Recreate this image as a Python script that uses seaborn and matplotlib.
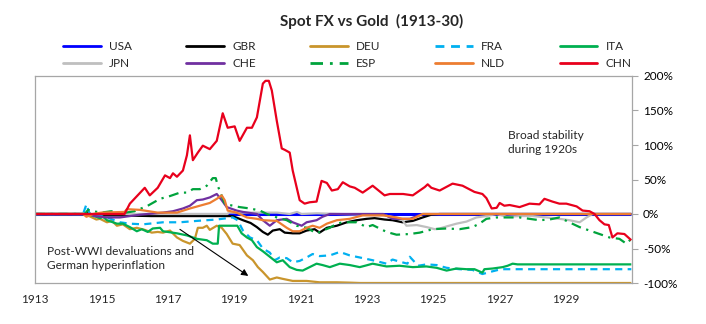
import numpy as np
import pandas as pd
import matplotlib
matplotlib.use("Agg")
import matplotlib.pyplot as plt
from matplotlib.lines import Line2D
import seaborn as sns

# ---------------- data (year, % change of spot FX vs gold) ----------------
countries = ["USA", "GBR", "DEU", "FRA", "ITA", "JPN", "CHE", "ESP", "NLD", "CHN"]

usa_x = [1913.0, 1930.98]
usa_y = [0, 0]

gbr_x = [1913.0, 1914.5, 1914.6, 1914.75, 1915.5, 1916.5, 1917.5, 1918.5, 1918.96, 1919.27, 1919.5,
         1919.69, 1919.87, 1920.02, 1920.17, 1920.38, 1920.53, 1920.77, 1920.98, 1921.19, 1921.43,
         1921.58, 1921.80, 1922.10, 1922.40, 1922.70, 1923.00, 1923.24, 1923.54, 1923.78, 1924.08,
         1924.39, 1924.69, 1924.95, 1925.2, 1930.98]
gbr_y = [0, 0, 2, -2, -2, -3, -3, -3, -3, -9, -13, -19, -26, -30, -24, -22, -27, -28, -28, -24, -22,
         -27, -20, -17, -12, -9, -7, -6, -8, -9, -12, -10, -5, -1, 0, 0]

deu_x = [1913.0, 1914.5, 1914.72, 1914.85, 1914.96, 1915.17, 1915.32, 1915.47, 1915.65, 1915.86,
         1916.07, 1916.31, 1916.52, 1916.70, 1916.86, 1917.07, 1917.28, 1917.46, 1917.67, 1917.82,
         1917.91, 1918.06, 1918.18, 1918.27, 1918.48, 1918.63, 1918.78, 1918.96, 1919.17, 1919.39,
         1919.57, 1919.72, 1919.87, 1920.08, 1920.29, 1920.47, 1920.77, 1921.19, 1921.58, 1922.1,
         1922.5, 1922.8, 1930.98]
deu_y = [0, 0, -5, -8, -7, -12, -10, -17, -15, -22, -20, -23, -27, -26, -27, -24, -34, -39, -43, -36,
         -20, -20, -17, -23, -17, -20, -29, -43, -45, -60, -67, -77, -84, -95, -92, -94, -97, -97,
         -99, -99, -99.5, -100, -100]

fra_x = [1913.0, 1914.45, 1914.55, 1914.65, 1915.0, 1915.17, 1915.56, 1915.86, 1916.25, 1916.86,
         1917.37, 1917.88, 1918.48, 1918.96, 1919.11, 1919.27, 1919.48, 1919.69, 1919.87, 1920.08,
         1920.23, 1920.38, 1920.59, 1920.77, 1920.98, 1921.19, 1921.37, 1921.58, 1921.89, 1922.19,
         1922.49, 1922.79, 1923.18, 1923.60, 1923.78, 1923.99, 1924.23, 1924.30, 1924.55, 1924.81,
         1925.11, 1925.41, 1925.80, 1926.19, 1926.49, 1926.8, 1927.05, 1930.98]
fra_y = [0, 0, 14, 0, -3, -5, -12, -14, -15, -12, -12, -10, -8, -5, -9, -24, -34, -38, -50, -56,
         -67, -63, -64, -70, -68, -63, -58, -61, -60, -55, -60, -63, -67, -72, -66, -69, -72, -62,
         -75, -73, -74, -78, -80, -81, -87, -83, -80, -80]

ita_x = [1913.0, 1914.5, 1914.72, 1914.96, 1915.05, 1915.17, 1915.47, 1915.65, 1915.86, 1916.07,
         1916.22, 1916.40, 1916.55, 1916.77, 1916.86, 1917.28, 1917.58, 1917.88, 1918.18, 1918.36,
         1918.51, 1918.55, 1919.10, 1919.23, 1919.39, 1919.54, 1919.69, 1919.87, 1920.08, 1920.29,
         1920.47, 1920.68, 1920.89, 1921.07, 1921.28, 1921.49, 1921.67, 1921.89, 1922.19, 1922.49,
         1922.79, 1922.95, 1923.18, 1923.6, 1923.99, 1924.39, 1924.8, 1925.11, 1925.41, 1925.71,
         1926.01, 1926.25, 1926.49, 1926.55, 1926.80, 1927.10, 1927.25, 1927.40, 1927.55, 1930.98]
ita_y = [0, 0, -2, -6, -4, -9, -14, -14, -19, -25, -22, -26, -21, -20, -25, -28, -31, -36, -38, -43,
         -43, -17, -17, -28, -34, -38, -48, -54, -62, -70, -67, -77, -81, -82, -77, -72, -74, -77,
         -72, -74, -77, -75, -72, -76, -75, -77, -76, -78, -82, -79, -80, -80, -85, -80, -79, -77,
         -75, -72, -73, -73]

jpn_x = [1913.0, 1918.8, 1918.85, 1920.3, 1920.68, 1920.9, 1921.04, 1921.5, 1923.54, 1923.93,
         1924.08, 1924.20, 1924.51, 1924.81, 1925.05, 1925.2, 1925.41, 1925.71, 1926.01, 1926.31,
         1926.61, 1926.92, 1927.22, 1927.61, 1928.0, 1928.42, 1928.81, 1929.11, 1929.42, 1929.63,
         1929.81, 1930.98]
jpn_y = [0, 0, 2, 2, 0, 3, 0, 1, -2, -6, -9, -17, -16, -19, -22, -21, -18, -14, -11, -5, -3, 0, -4,
         -3, -3, -5, -7, -9, -12, -5, 0, 0]

che_x = [1913.0, 1914.6, 1914.8, 1915.17, 1915.56, 1916.16, 1916.86, 1917.16, 1917.46, 1917.67,
         1917.88, 1918.06, 1918.27, 1918.48, 1918.63, 1918.78, 1919.08, 1919.27, 1919.69, 1919.87,
         1920.08, 1920.29, 1920.59, 1920.77, 1921.04, 1921.19, 1921.49, 1921.67, 1921.89, 1923.5,
         1923.78, 1924.3, 1924.69, 1930.98]
che_y = [0, 0, -3, -5, -5, -1, 2, 4, 8, 12, 20, 21, 24, 29, 20, 10, 5, 3, 0, -9, -17, -9, -7, -12,
         -17, -12, -9, -4, 0, 0, -7, -7, 0, 0]

esp_x = [1913.0, 1914.5, 1914.6, 1914.75, 1915.0, 1915.3, 1915.6, 1916.0, 1916.4, 1916.77, 1917.07,
         1917.37, 1917.58, 1917.76, 1917.97, 1918.18, 1918.36, 1918.45, 1918.51, 1918.72, 1918.87,
         1919.17, 1919.48, 1919.78, 1919.99, 1920.29, 1920.59, 1920.89, 1921.19, 1921.49, 1921.67,
         1921.89, 1922.10, 1922.28, 1922.70, 1923.0, 1923.18, 1923.60, 1923.90, 1924.30, 1924.60,
         1924.99, 1925.41, 1925.80, 1926.19, 1926.40, 1926.61, 1926.92, 1927.22, 1927.61, 1927.91,
         1928.21, 1928.51, 1928.81, 1929.11, 1929.42, 1929.72, 1930.02, 1930.32, 1930.62, 1930.83,
         1930.98]
esp_y = [0, 0, 6, 4, 2, 4, 1, 4, 12, 22, 26, 31, 31, 36, 36, 41, 52, 52, 41, 15, 13, 10, 8, 5, 0,
         -5, -9, -17, -20, -28, -24, -20, -14, -12, -12, -19, -16, -26, -30, -29, -27, -22, -21, -22,
         -19, -14, -7, -5, -5, -5, -7, -9, -8, -5, -12, -19, -24, -29, -34, -36, -43, -36]

nld_x = [1913.0, 1914.45, 1914.55, 1914.75, 1915.0, 1915.7, 1915.77, 1916.16, 1916.70, 1917.28,
         1917.67, 1917.97, 1918.27, 1918.48, 1918.63, 1918.72, 1918.81, 1919.08, 1919.39, 1919.69,
         1919.87, 1920.29, 1920.59, 1920.77, 1920.98, 1921.19, 1921.37, 1921.58, 1921.80, 1922.10,
         1922.49, 1922.88, 1923.5, 1923.9, 1924.08, 1924.39, 1924.69, 1930.98]
nld_y = [0, 0, -4, 0, 2, 3, 7, 6, 2, 2, 8, 12, 16, 22, 27, 20, 5, 2, -5, -7, -9, -10, -20, -25, -25,
         -20, -17, -20, -14, -9, -7, -2, -2, -5, -7, -7, 0, 0]

chn_x = [1913.0, 1915.7, 1915.86, 1916.31, 1916.46, 1916.70, 1916.92, 1917.07, 1917.16, 1917.28,
         1917.46, 1917.58, 1917.67, 1917.76, 1917.91, 1918.06, 1918.27, 1918.48, 1918.66, 1918.81,
         1919.02, 1919.17, 1919.39, 1919.54, 1919.69, 1919.87, 1919.95, 1920.05, 1920.14, 1920.29,
         1920.44, 1920.53, 1920.68, 1920.77, 1920.98, 1921.13, 1921.28, 1921.49, 1921.64, 1921.80,
         1921.95, 1922.13, 1922.28, 1922.49, 1922.64, 1922.88, 1923.18, 1923.54, 1923.7, 1924.1,
         1924.39, 1924.75, 1924.84, 1924.95, 1925.20, 1925.59, 1925.89, 1926.25, 1926.49, 1926.61,
         1926.77, 1926.92, 1927.01, 1927.15, 1927.31, 1927.61, 1927.91, 1928.21, 1928.36, 1928.60,
         1928.81, 1929.02, 1929.33, 1929.51, 1929.72, 1929.87, 1930.02, 1930.17, 1930.3, 1930.41,
         1930.56, 1930.77, 1930.98]
chn_y = [0, 0, 15, 38, 27, 38, 56, 52, 59, 54, 63, 85, 114, 78, 89, 99, 94, 106, 146, 125, 127, 106,
         125, 125, 140, 189, 193, 193, 179, 135, 95, 93, 89, 63, 20, 15, 17, 18, 48, 45, 34, 36, 46,
         40, 38, 31, 41, 27, 29, 29, 27, 39, 43, 38, 34, 44, 41, 32, 29, 23, 8, 9, 16, 12, 13, 10,
         15, 14, 22, 18, 15, 15, 11, 5, 4, 0, -9, -15, -16, -34, -28, -29, -38]

series = {
    "USA": (usa_x, usa_y), "GBR": (gbr_x, gbr_y), "DEU": (deu_x, deu_y), "FRA": (fra_x, fra_y),
    "ITA": (ita_x, ita_y), "JPN": (jpn_x, jpn_y), "CHE": (che_x, che_y), "ESP": (esp_x, esp_y),
    "NLD": (nld_x, nld_y), "CHN": (chn_x, chn_y),
}

x_tick_years = [1913, 1915, 1917, 1919, 1921, 1923, 1925, 1927, 1929]
y_ticks = [-100, -50, 0, 50, 100, 150, 200]

frames = []
for c in countries:
    xs, ys = series[c]
    frames.append(pd.DataFrame({"year": xs, "pct": ys, "country": c}))
df = pd.concat(frames, ignore_index=True)

# ---------------- styling ----------------
palette = {
    "USA": "#0000FF", "GBR": "#000000", "DEU": "#C9952C", "FRA": "#00B0F0", "ITA": "#00B050",
    "JPN": "#BFBFBF", "CHE": "#7030A0", "ESP": "#00A33C", "NLD": "#ED7D31", "CHN": "#E8001C",
}
dashes = {c: "" for c in countries}
dashes["FRA"] = (3.2, 2.4)
dashes["ESP"] = (4.5, 2.5, 1.0, 2.5)

sns.set_style("white")
plt.rcParams["font.family"] = ["Lato", "DejaVu Sans"]

fig = plt.figure(figsize=(7.06, 3.24), dpi=100)
ax = fig.add_axes([35 / 706, 1 - 283 / 324, (632 - 35) / 706, (283 - 76) / 324])

sns.lineplot(data=df, x="year", y="pct", hue="country", style="country",
             hue_order=countries, style_order=countries, palette=palette, dashes=dashes,
             estimator=None, sort=False, linewidth=1.6, legend=False, ax=ax)
for ln in ax.lines:
    ln.set_solid_capstyle("butt")
    ln.set_dash_capstyle("butt")
ax.lines[0].set_linewidth(2.2)

ax.set_xlim(1913.0, 1931.0)
ax.set_ylim(-100, 200)
ax.set_xlabel("")
ax.set_ylabel("")

ax.yaxis.tick_right()
ax.set_yticks(y_ticks)
ax.set_yticklabels([f"{v}%" for v in y_ticks])
ax.tick_params(axis="y", right=True, length=4, width=0.8, color="#A6A6A6", pad=4,
               labelsize=8.5, labelcolor="#000000")
for lab in ax.get_yticklabels():
    lab.set_horizontalalignment("left")

ax.set_xticks(x_tick_years)
ax.set_xticklabels([str(y) for y in x_tick_years])
ax.tick_params(axis="x", bottom=True, length=0, pad=8, labelsize=8.5)

for sp in ax.spines.values():
    sp.set_color("#A6A6A6")
    sp.set_linewidth(0.9)
ax.grid(False)

# annotations
ax.text(1913.36, -64, "Post-WWI devaluations and\nGerman hyperinflation", fontsize=8.6,
        ha="left", va="center", linespacing=1.35)
ax.annotate("", xy=(1919.5, -92), xytext=(1917.3, -20),
            arrowprops=dict(arrowstyle="-|>", color="black", lw=0.8, mutation_scale=10))
ax.text(1927.25, 104, "Broad stability\nduring 1920s", fontsize=8.6, ha="left", va="center",
        linespacing=1.35)

fig.text(0.526, 1 - 21 / 324, "Spot FX vs Gold  (1913-30)", fontsize=11, fontweight="bold",
         ha="center", va="center")

# legend (column-major fill -> reorder so rows read USA..ITA / JPN..CHN)
order = ["USA", "JPN", "GBR", "CHE", "DEU", "ESP", "FRA", "NLD", "ITA", "CHN"]
handles = []
for c in order:
    ls = "-" if dashes[c] == "" else (0, dashes[c])
    handles.append(Line2D([0], [0], color=palette[c], lw=2.0, linestyle=ls))
fig.legend(handles, order, ncol=5, loc="upper left", bbox_to_anchor=(63 / 706, 1 - 41 / 324),
           frameon=False, fontsize=8.5, handlelength=3.2, handletextpad=0.7,
           columnspacing=4.6, labelspacing=0.5, borderpad=0, borderaxespad=0)

fig.savefig("out.png", dpi=100)
